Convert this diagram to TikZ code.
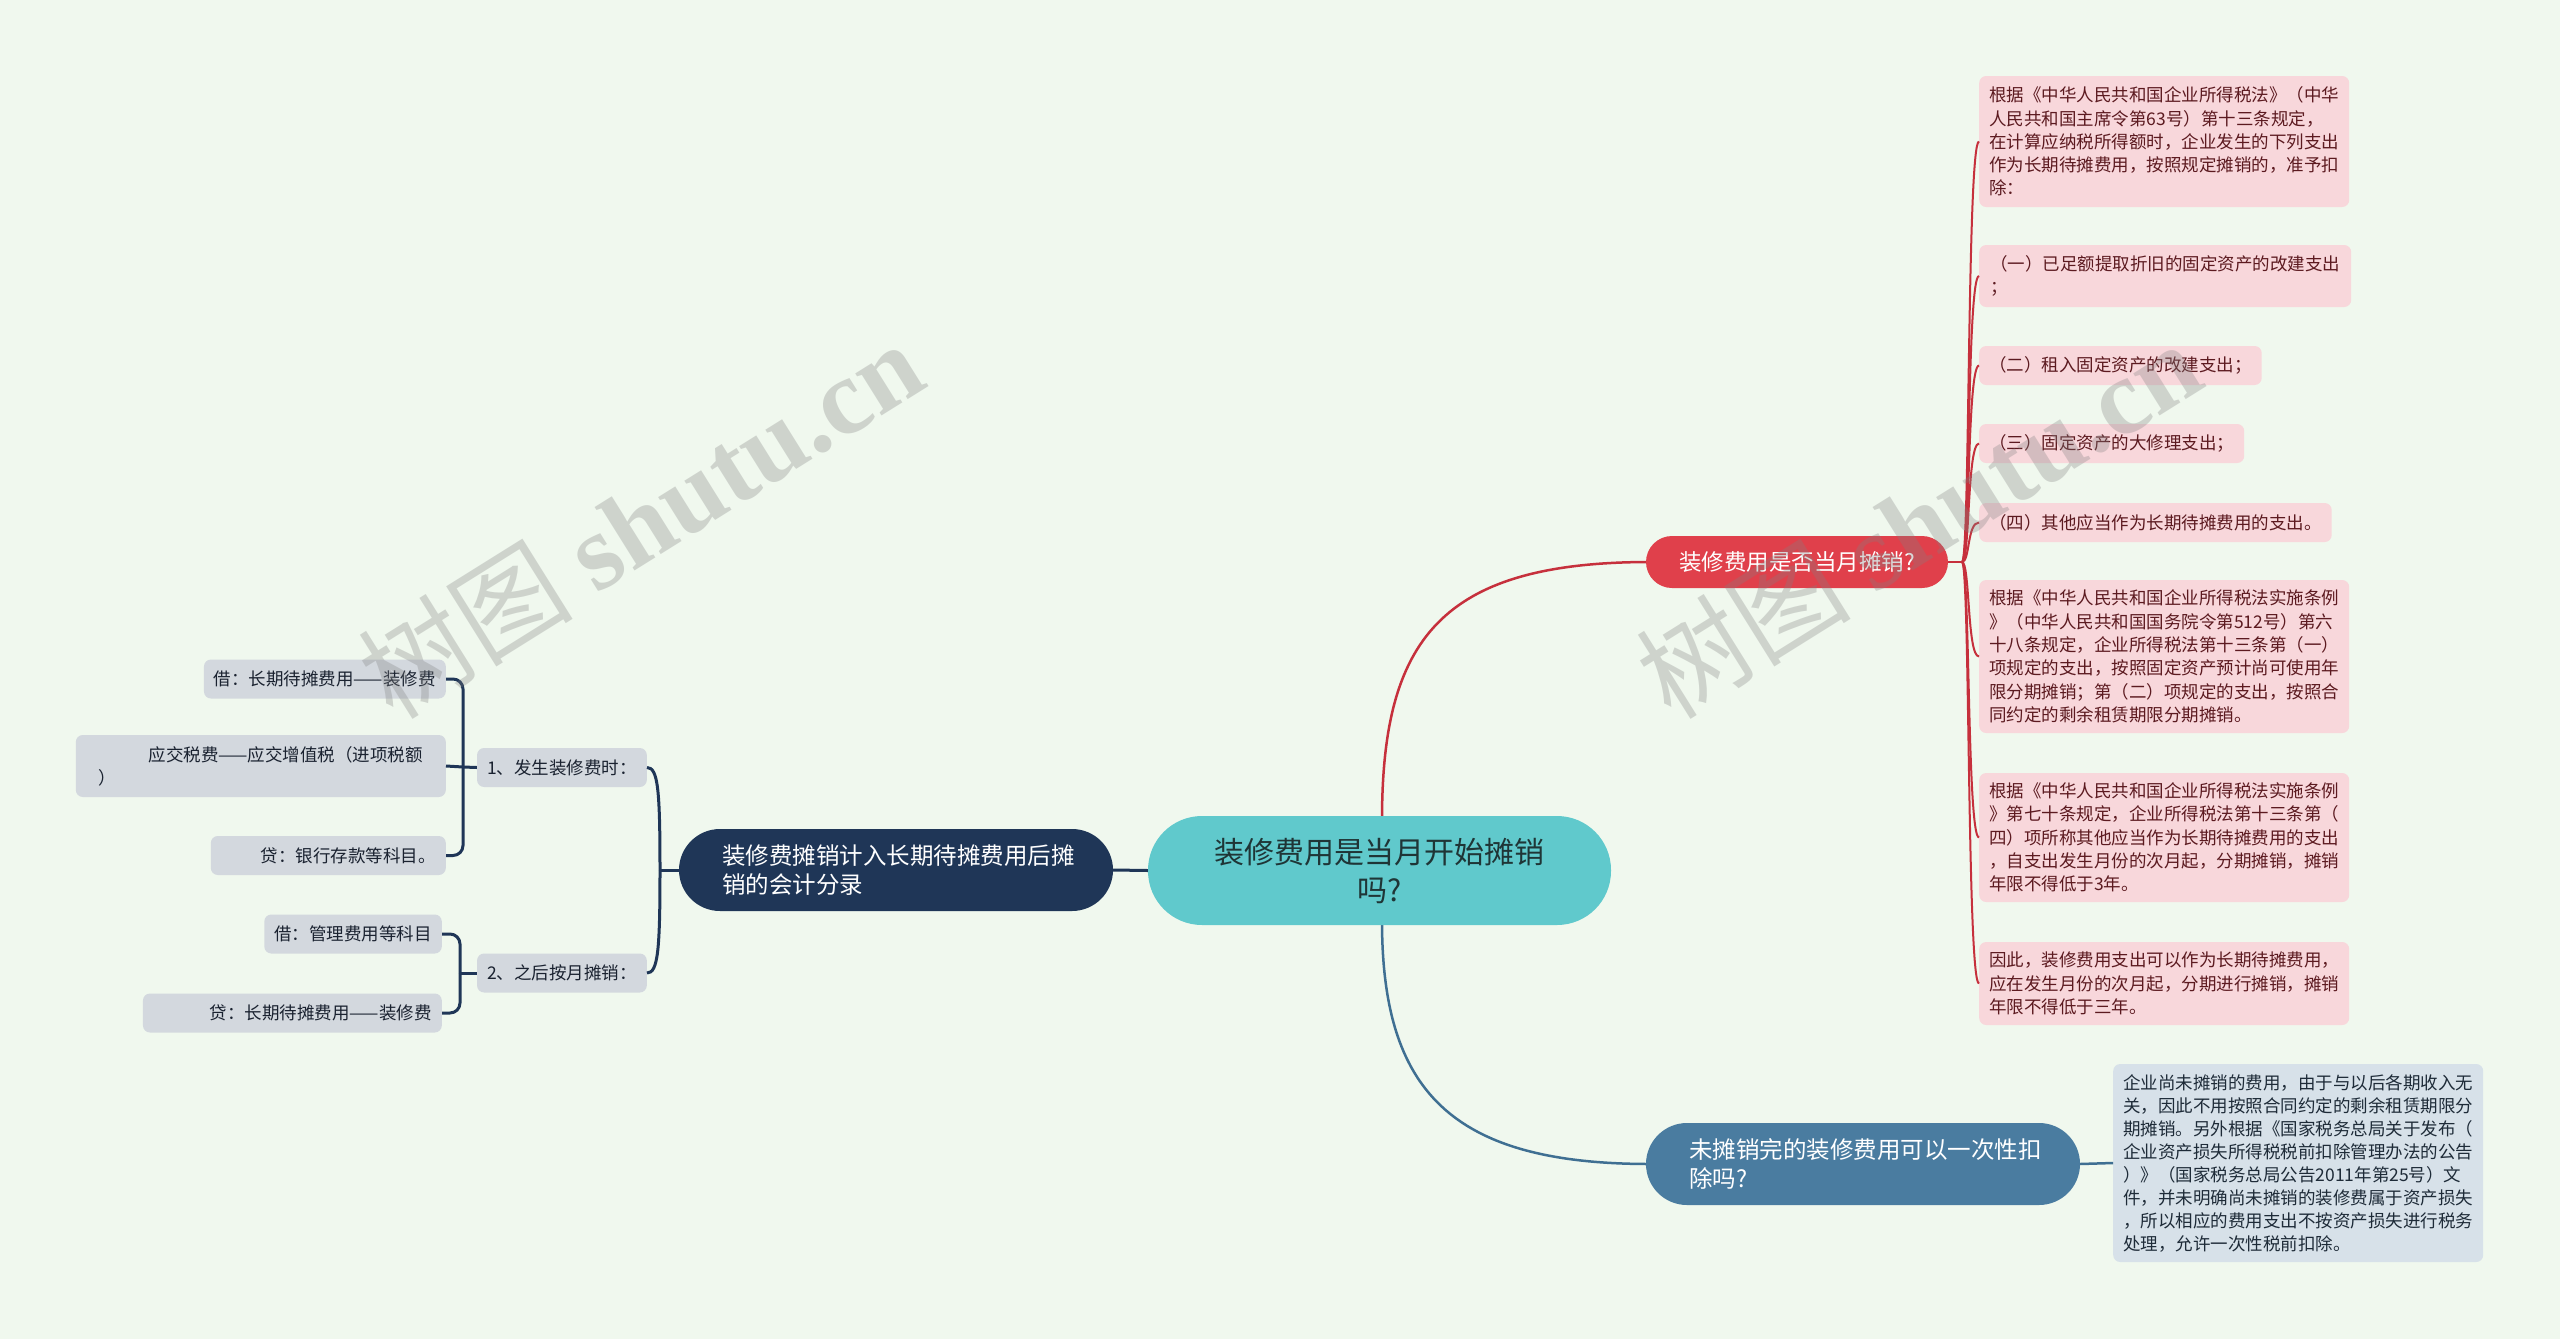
\documentclass[tikz,border=0pt]{standalone}
\usepackage{fontspec}
\setmainfont{Noto Sans CJK SC}
\newfontfamily\wmlatin{Liberation Serif}
\definecolor{cbg}{HTML}{F0F8EE}
\definecolor{cteal}{HTML}{60C9CC}
\definecolor{ctealtext}{HTML}{1F3536}
\definecolor{credn}{HTML}{E0404B}
\definecolor{credl}{HTML}{C6303C}
\definecolor{cpink}{HTML}{F8D7DB}
\definecolor{cpinktext}{HTML}{5C1A20}
\definecolor{cbluen}{HTML}{4A7CA0}
\definecolor{cbluel}{HTML}{3F6F92}
\definecolor{cbluebox}{HTML}{D7E1E9}
\definecolor{cbluetext}{HTML}{1E2B38}
\definecolor{cnavy}{HTML}{1F3657}
\definecolor{cgray}{HTML}{D3D8DE}
\definecolor{cgraytext}{HTML}{1A2230}
\begin{document}
\begin{tikzpicture}[x=1pt,y=-1pt,
  every node/.style={inner sep=0pt},
  rootnode/.style={fill=cteal, rounded corners=54pt, minimum width=463pt, minimum height=109pt, align=center, text=ctealtext, font=\fontsize{30}{38}\selectfont},
  rednode/.style={fill=credn, rounded corners=26pt, minimum width=302pt, minimum height=52pt, text=white, font=\fontsize{22.5}{28}\selectfont},
  bluenode/.style={fill=cbluen, rounded corners=41pt, minimum height=82pt, inner xsep=43pt, text width=348pt, align=left, text=white, font=\fontsize{23.5}{29}\selectfont},
  navynode/.style={fill=cnavy, rounded corners=41pt, minimum height=82pt, inner xsep=43pt, text width=348pt, align=left, text=white, font=\fontsize{23.5}{29}\selectfont},
  pinkbox/.style={fill=cpink, rounded corners=7pt, inner xsep=10pt, inner ysep=5pt, align=left, text=cpinktext, font=\fontsize{17.5}{23.3}\selectfont, anchor=west},
  bluebox/.style={fill=cbluebox, rounded corners=7pt, inner xsep=10pt, inner ysep=5pt, align=left, text=cbluetext, font=\fontsize{17.5}{23}\selectfont, anchor=west},
  graybox/.style={fill=cgray, rounded corners=7pt, inner xsep=10pt, inner ysep=5pt, align=left, text=cgraytext, font=\fontsize{17.5}{23.3}\selectfont, anchor=east, minimum height=39pt},
  redline/.style={draw=credl, line width=2.5pt},
  blueline/.style={draw=cbluel, line width=2.5pt},
  navyline/.style={draw=cnavy, line width=3pt},
  wm/.style={text=gray, text opacity=0.3, font=\fontsize{108}{108}\selectfont}
]
\useasboundingbox (0,0) rectangle (2560,1339);
\fill[cbg] (0,0) rectangle (2560,1339);

% coordinates for junctions
\coordinate (jr) at (1962,562);
\coordinate (jn) at (660,870);
\coordinate (j1) at (463,767);
\coordinate (j2) at (460,973);

% connectors (drawn first, under nodes)
\coordinate (ctop) at (1382,820);
\coordinate (cbot) at (1382,921);
\coordinate (rleft) at (1650,562);
\coordinate (bleft) at (1650,1164);
\draw[redline] (ctop) .. controls (1382,640) and (1440,562) .. (rleft);
\draw[blueline] (cbot) .. controls (1382,1090) and (1450,1164) .. (bleft);

% nodes
\node[rootnode] (root) at (1379.5,870.5) {装修费用是当月开始摊销\\吗?};
\node[rednode] (red) at (1797,562) {装修费用是否当月摊销?};
\node[bluenode] (blue) at (1863,1164) {未摊销完的装修费用可以一次性扣\\除吗?};
\node[navynode] (navy) at (896,870) {装修费摊销计入长期待摊费用后摊\\销的会计分录};

\node[pinkbox, minimum height=131pt] (p1) at (1979,141.5) {根据《中华人民共和国企业所得税法》（中华\\人民共和国主席令第63号）第十三条规定，\\在计算应纳税所得额时，企业发生的下列支出\\作为长期待摊费用，按照规定摊销的，准予扣\\除：};
\node[pinkbox, minimum height=62pt, minimum width=372pt] (p2) at (1979,276) {（一）已足额提取折旧的固定资产的改建支出\\；};
\node[pinkbox, minimum height=39pt] (p3) at (1979,365.5) {（二）租入固定资产的改建支出；};
\node[pinkbox, minimum height=39pt] (p4) at (1979,443.5) {（三）固定资产的大修理支出；};
\node[pinkbox, minimum height=39pt] (p5) at (1979,522.5) {（四）其他应当作为长期待摊费用的支出。};
\node[pinkbox, minimum height=153pt] (p6) at (1979,656.5) {根据《中华人民共和国企业所得税法实施条例\\》（中华人民共和国国务院令第512号）第六\\十八条规定，企业所得税法第十三条第（一）\\项规定的支出，按照固定资产预计尚可使用年\\限分期摊销；第（二）项规定的支出，按照合\\同约定的剩余租赁期限分期摊销。};
\node[pinkbox, minimum height=129pt] (p7) at (1979,837.5) {根据《中华人民共和国企业所得税法实施条例\\》第七十条规定，企业所得税法第十三条第（\\四）项所称其他应当作为长期待摊费用的支出\\，自支出发生月份的次月起，分期摊销，摊销\\年限不得低于3年。};
\node[pinkbox, minimum height=83pt] (p8) at (1979,983.5) {因此，装修费用支出可以作为长期待摊费用，\\应在发生月份的次月起，分期进行摊销，摊销\\年限不得低于三年。};

\node[bluebox, minimum height=198pt] (bt) at (2113,1163) {企业尚未摊销的费用，由于与以后各期收入无\\关，因此不用按照合同约定的剩余租赁期限分\\期摊销。另外根据《国家税务总局关于发布（\\企业资产损失所得税税前扣除管理办法的公告\\）》（国家税务总局公告2011年第25号）文\\件，并未明确尚未摊销的装修费属于资产损失\\，所以相应的费用支出不按资产损失进行税务\\处理，允许一次性税前扣除。};

\node[graybox] (l1) at (647,767.5) {1、发生装修费时：};
\node[graybox] (l2) at (647,973) {2、之后按月摊销：};
\node[graybox] (l1a) at (446,679) {借：长期待摊费用——装修费};
\node[graybox, minimum height=62pt, minimum width=370pt] (l1b) at (446,766) {\hspace*{50pt}应交税费——应交增值税（进项税额\\）};
\node[graybox] (l1c) at (446,855.5) {\hspace*{40pt}贷：银行存款等科目。};
\node[graybox] (l2a) at (442,934) {借：管理费用等科目};
\node[graybox] (l2b) at (442,1013) {\hspace*{57pt}贷：长期待摊费用——装修费};

% connectors between named nodes
\draw[navyline] (root.west) -- (navy.east);
\draw[redline] (red.east) -- (jr);
\foreach \c in {p1,p2,p3,p4,p5,p6,p7,p8}{
  \draw[redline, line width=2pt] (jr) .. controls (1970,562) and ([xshift=-12pt]\c.west) .. (\c.west);
}
\draw[blueline] (blue.east) -- (bt.west);

\draw[navyline] (navy.west) -- (jn);
\draw[navyline] (jn) .. controls (660,790) and (658,767.5) .. (l1.east);
\draw[navyline] (jn) .. controls (660,950) and (658,973) .. (l2.east);

\draw[navyline] (l1.west) -- (j1);
\draw[navyline, rounded corners=10pt] (j1) |- (l1a.east);
\draw[navyline] (j1) -- (l1b.east);
\draw[navyline, rounded corners=10pt] (j1) |- (l1c.east);
\draw[navyline] (l2.west) -- (j2);
\draw[navyline, rounded corners=10pt] (j2) |- (l2a.east);
\draw[navyline, rounded corners=10pt] (j2) |- (l2b.east);

% watermarks
\node[wm, rotate=32] (wm1) at (640,519) {树图 {\wmlatin\bfseries shutu.cn}};
\node[wm, rotate=32] (wm2) at (1918,519) {树图 {\wmlatin\bfseries shutu.cn}};
\end{tikzpicture}
\end{document}
